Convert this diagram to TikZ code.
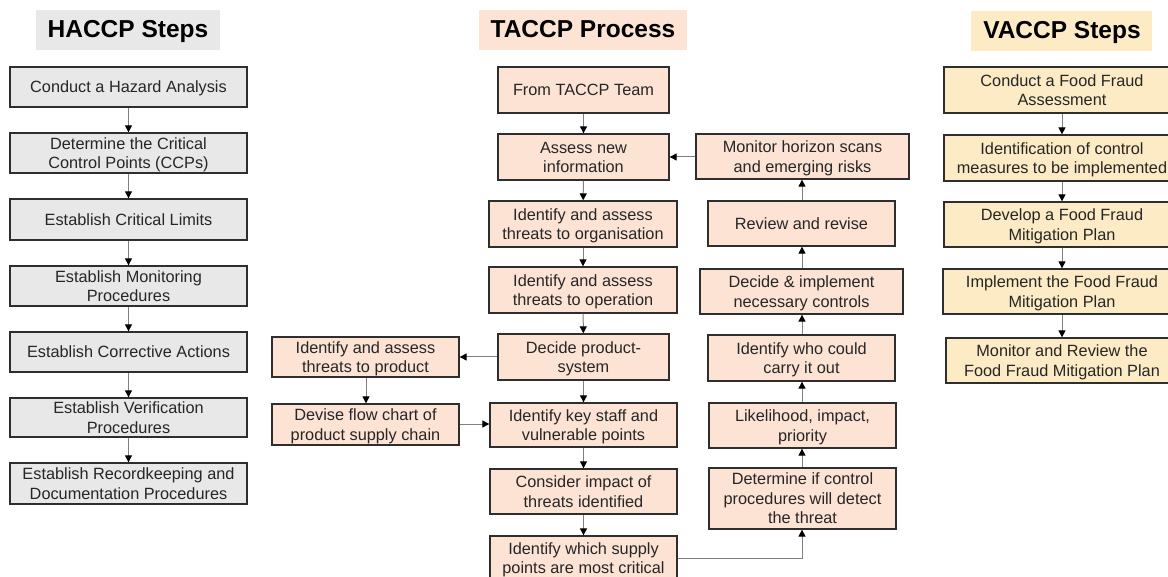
\documentclass[tikz,border=0pt]{standalone}
\usepackage{fontspec}
\setmainfont{Liberation Sans}
\usetikzlibrary{arrows.meta}

\definecolor{hfill}{HTML}{E8E8E8}
\definecolor{tfill}{HTML}{FCE3D4}
\definecolor{vfill}{HTML}{FCEBC4}
\definecolor{boxline}{HTML}{2E2E2E}
\definecolor{flowline}{HTML}{808080}

% centred lines of text, set a little below the optical centre of their box
\newcommand{\celltext}[1]{\raisebox{-2pt}[\height][\depth]{\renewcommand{\arraystretch}{1}\begin{tabular}{@{}c@{}}#1\end{tabular}}}

\begin{document}
\begin{tikzpicture}[x=1pt,y=-1pt,
  every node/.style={font=\fontsize{16.3}{19.5}\selectfont, text=black!85, inner sep=0pt},
  card/.style={draw=boxline, line width=1.3pt},
  hbox/.style={card, fill=hfill},
  tbox/.style={card, fill=tfill},
  vbox/.style={card, fill=vfill},
  title/.style={font=\fontsize{24.5}{28}\selectfont\bfseries, text=black},
  flow/.style={draw=flowline, line width=1pt, -{Triangle[length=7pt,width=7pt,color=black]}}
]
\useasboundingbox (0,0) rectangle (1168,577);
\clip (0,0) rectangle (1168,577);

% box between two corners (#2,#3) and (#4,#5), named #6, holding text #7
\newcommand{\cardbox}[7]{%
  \node[#1, minimum width={#4-#2}, minimum height={#5-#3}] (#6) at ({(#2+#4)/2},{(#3+#5)/2}) {\celltext{#7}};}

% ---------- column headers ----------
\fill[hfill] (36,10) rectangle (220,50);
\node[title] (hhead) at (128,30) {\celltext{HACCP Steps}};
\fill[tfill] (479,10) rectangle (687,50);
\node[title] (thead) at (583,30) {\celltext{TACCP Process}};
\fill[vfill] (971,11) rectangle (1152,51);
\node[title] (vhead) at (1062,31) {\celltext{VACCP Steps}};

% ---------- HACCP steps ----------
\cardbox{hbox}{10}{67}{247}{107}{h1}{Conduct a Hazard Analysis}
\cardbox{hbox}{10}{133}{247}{173}{h2}{Determine the Critical\\Control Points (CCPs)}
\cardbox{hbox}{10}{199}{247}{240}{h3}{Establish Critical Limits}
\cardbox{hbox}{10}{266}{247}{306}{h4}{Establish Monitoring\\Procedures}
\cardbox{hbox}{10}{332}{247}{372}{h5}{Establish Corrective Actions}
\cardbox{hbox}{10}{398}{247}{437}{h6}{Establish Verification\\Procedures}
\cardbox{hbox}{10}{463}{247}{504}{h7}{Establish Recordkeeping and\\Documentation Procedures}
\foreach \a/\b in {h1/h2,h2/h3,h3/h4,h4/h5,h5/h6,h6/h7}
  \draw[flow] (\a) -- (\b);

% ---------- TACCP process: main column ----------
\cardbox{tbox}{498}{67}{669}{113}{t1}{From TACCP Team}
\cardbox{tbox}{498}{134}{669}{180}{t2}{Assess new\\information}
\cardbox{tbox}{489}{201}{677}{247}{t3}{Identify and assess\\threats to organisation}
\cardbox{tbox}{489}{267}{677}{313}{t4}{Identify and assess\\threats to operation}
\cardbox{tbox}{498}{334}{669}{380}{t5}{Decide product-\\system}
\cardbox{tbox}{490}{403}{677}{447}{t6}{Identify key staff and\\vulnerable points}
\cardbox{tbox}{490}{469}{677}{514}{t7}{Consider impact of\\threats identified}
\cardbox{tbox}{490}{536}{677}{580}{t8}{Identify which supply\\points are most critical}
\foreach \a/\b in {t1/t2,t2/t3,t3/t4,t4/t5,t5/t6,t6/t7,t7/t8}
  \draw[flow] (\a) -- (\b);

% ---------- TACCP process: product branch ----------
\cardbox{tbox}{272}{337}{459}{377}{p1}{Identify and assess\\threats to product}
\cardbox{tbox}{272}{404}{459}{445}{p2}{Devise flow chart of\\product supply chain}
\draw[flow] (t5.west |- 0,357) -- (p1.east |- 0,357);
\draw[flow] (p1.south -| 366,0) -- (p2.north -| 366,0);
\draw[flow] (p2.east |- 0,424) -- (t6.west |- 0,424);

% ---------- TACCP process: review loop ----------
\cardbox{tbox}{696}{134}{909}{179}{r1}{Monitor horizon scans\\and emerging risks}
\cardbox{tbox}{708}{201}{895}{246}{r2}{Review and revise}
\cardbox{tbox}{700}{269}{903}{314}{r3}{Decide \& implement\\necessary controls}
\cardbox{tbox}{708}{335}{895}{381}{r4}{Identify who could\\carry it out}
\cardbox{tbox}{709}{403}{896}{448}{r5}{Likelihood, impact,\\priority}
\cardbox{tbox}{709}{468}{896}{529}{r6}{Determine if control\\procedures will detect\\the threat}
\foreach \a/\b in {r6/r5,r5/r4,r4/r3,r3/r2,r2/r1}
  \draw[flow] (\a.north -| 802,0) -- (\b.south -| 802,0);
\draw[flow] (r1.west |- 0,157) -- (t2.east |- 0,157);
\coordinate (bend) at (802,558);
\draw[flow] (t8.east |- bend) -- (bend) -- (r6.south -| bend);

% ---------- VACCP steps ----------
\cardbox{vbox}{944}{67}{1180}{113}{v1}{Conduct a Food Fraud\\Assessment}
\cardbox{vbox}{944}{135}{1180}{181}{v2}{Identification of control\\measures to be implemented}
\cardbox{vbox}{944}{202}{1180}{247}{v3}{Develop a Food Fraud\\Mitigation Plan}
\cardbox{vbox}{943}{269}{1181}{314}{v4}{Implement the Food Fraud\\Mitigation Plan}
\cardbox{vbox}{946}{338}{1178}{383}{v5}{Monitor and Review the\\Food Fraud Mitigation Plan}
\foreach \a/\b in {v1/v2,v2/v3,v3/v4,v4/v5}
  \draw[flow] (\a.south -| 1062,0) -- (\b.north -| 1062,0);
\end{tikzpicture}
\end{document}
